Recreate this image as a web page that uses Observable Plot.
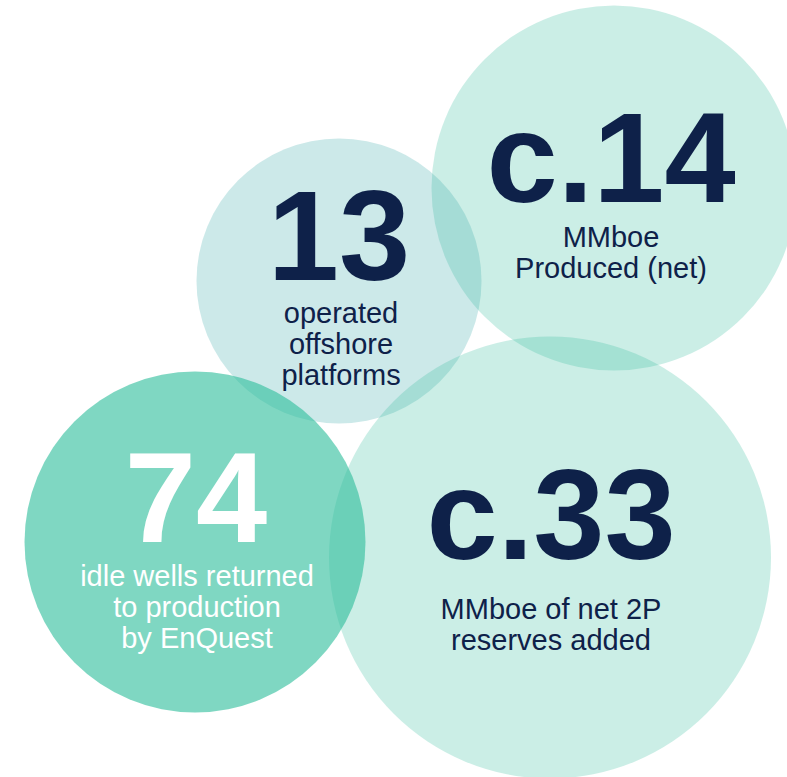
<!DOCTYPE html>
<html>
<head>
<meta charset="utf-8">
<script src="https://cdn.jsdelivr.net/npm/d3@7"></script>
<script src="https://cdn.jsdelivr.net/npm/@observablehq/plot@0.6"></script>
<style>
  html, body { margin: 0; padding: 0; background: #ffffff; }
  #chart svg { display: block; }
</style>
</head>
<body>
<div id="chart"></div>
<script>
// Bubble data (chart coordinate space: 787 x 777, y downwards)
const figures  = ["c.14", "13", "74", "c.33"];
const captions = ["MMboe\nProduced (net)", "operated\noffshore\nplatforms", "idle wells returned\nto production\nby EnQuest", "MMboe of net 2P\nreserves added"];
const bubbleX  = [613.5, 338.5, 194.5, 549.5];
const bubbleY  = [187.5, 280.5, 541.5, 557];
const bubbleR  = [182.5, 142.5, 170.5, 221];

// Styling (kept separate from the data)
const fills     = ["#2ebd9c", "#33a7a7", "#2ebd9c", "#2ebd9c"];
const opacities = [0.25, 0.25, 0.61, 0.25];
const textFill  = ["#0e2149", "#0e2149", "#ffffff", "#0e2149"];
const numDx  = [-3, 0, 1, 1];
const numDy  = [14, -1, 0, 1];       // baseline offset from centre
const capDx  = [-3, 2, 2, 1];
const capDy  = [37, 20, 21.5, 39];   // cap-top offset of first caption line from centre

const bubbles = figures.map((f, i) => ({
  figure: f, caption: captions[i],
  x: bubbleX[i], y: bubbleY[i], r: bubbleR[i],
  fill: fills[i], opacity: opacities[i], tfill: textFill[i],
  nx: bubbleX[i] + numDx[i], ny: bubbleY[i] + numDy[i],
  cx: bubbleX[i] + capDx[i], cy: bubbleY[i] + capDy[i]
}));
const drawOrder = [0, 1, 3, 2].map(i => bubbles[i]);

const font = "'Liberation Sans', Arial, Helvetica, sans-serif";

const chart = Plot.plot({
  width: 787,
  height: 777,
  margin: 0,
  style: { background: "#ffffff", fontFamily: font, overflow: "hidden" },
  x: { type: "linear", domain: [0, 787], axis: null },
  y: { type: "linear", domain: [0, 777], reverse: true, axis: null },
  r: { type: "identity" },
  marks: [
    ...drawOrder.map(d => Plot.dot([d], {
      x: "x", y: "y", r: "r",
      fill: d.fill, fillOpacity: d.opacity, stroke: "none"
    })),
    ...bubbles.map(d => Plot.text([d], {
      x: "nx", y: "ny", text: "figure",
      fill: d.tfill, fontSize: 128, fontWeight: "bold",
      fontFamily: font, textAnchor: "middle", lineAnchor: "bottom"
    })),
    ...bubbles.map(d => Plot.text([d], {
      x: "cx", y: "cy", text: "caption",
      fill: d.tfill, fontSize: 29, fontFamily: font,
      textAnchor: "middle", lineAnchor: "top", lineHeight: 1.07
    }))
  ]
});
document.getElementById("chart").appendChild(chart);
</script>
</body>
</html>
